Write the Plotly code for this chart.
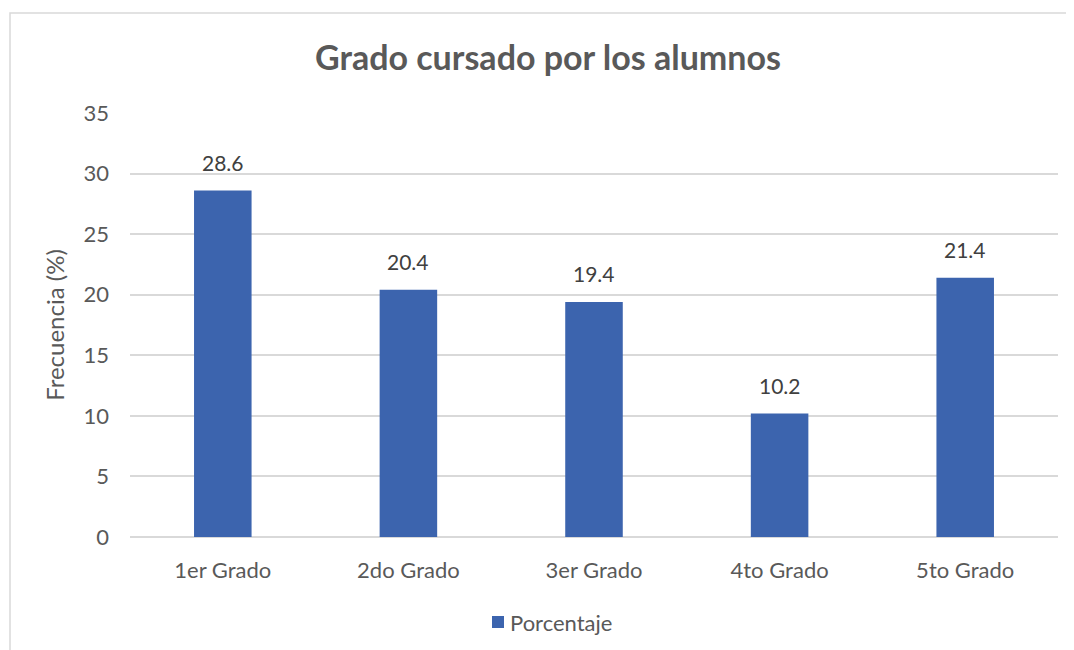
import plotly.graph_objects as go

categories = ["1er Grado", "2do Grado", "3er Grado", "4to Grado", "5to Grado"]
values = [28.6, 20.4, 19.4, 10.2, 21.4]
labels = ["28.6", "20.4", "19.4", "10.2", "21.4"]
y_ticks = [0, 5, 10, 15, 20, 25, 30, 35]
series_name = "Porcentaje"

FONT = "Lato"
GRAY = "#595959"
BAR = "#3C64AE"

# page has an 8px body margin; figure coords = page coords - 8
W, H = 1066, 642
L, T = 122, 105
R = W - 1050
B = H - 529
pw, ph = W - L - R, H - T - B


def px(x):
    return (x - 8 - L) / pw


def py(y):
    return (T + ph - (y - 8)) / ph


fig = go.Figure()
fig.add_trace(go.Bar(
    x=categories, y=values, name=series_name,
    marker=dict(color=BAR, line=dict(width=0)),
    showlegend=False,
))

for c, v, t in zip(categories, values, labels):
    fig.add_annotation(x=c, y=v, text=t, showarrow=False, yanchor="middle",
                       yshift=28, font=dict(family=FONT, size=21, color="#404040"))

fig.update_layout(
    width=W, height=H,
    margin=dict(l=L, r=R, t=T, b=B, pad=0),
    paper_bgcolor="white", plot_bgcolor="white",
    bargap=0.69,
    title=dict(text="<b>Grado cursado por los alumnos</b>", x=540 / W, xref="container",
               xanchor="center", y=1 - 50 / H, yref="container", yanchor="middle",
               font=dict(family=FONT, size=34, color=GRAY)),
    font=dict(family=FONT, color=GRAY),
    showlegend=False,
    xaxis=dict(showgrid=False, showline=False, ticks="", ticklabelstandoff=18,
               tickfont=dict(family=FONT, size=22, color=GRAY)),
    yaxis=dict(range=[0, 35], tickvals=y_ticks, showgrid=True, gridcolor="#D9D9D9",
               gridwidth=1.5, zeroline=True, zerolinecolor="#D9D9D9", zerolinewidth=1.5,
               showline=False, ticks="", ticklabelstandoff=20,
               tickfont=dict(family=FONT, size=22, color=GRAY),
               title=dict(text="Frecuencia (%)", font=dict(family=FONT, size=24, color=GRAY),
                          standoff=12)),
)

# legend drawn manually (square swatch + label)
fig.add_shape(type="rect", xref="paper", yref="paper",
              x0=px(492), x1=px(504), y0=py(628), y1=py(616),
              line=dict(width=0), fillcolor=BAR)
fig.add_annotation(xref="paper", yref="paper", x=px(508), y=py(622), text=series_name,
                   showarrow=False, xanchor="left", yanchor="middle",
                   font=dict(family=FONT, size=22, color=GRAY))

# chart border
fig.add_shape(type="rect", xref="paper", yref="paper",
              x0=px(10), x1=px(1100), y0=py(700), y1=py(13),
              line=dict(color="#D9D9D9", width=1.5), fillcolor="rgba(0,0,0,0)", layer="below")

fig.write_html("out.html")
